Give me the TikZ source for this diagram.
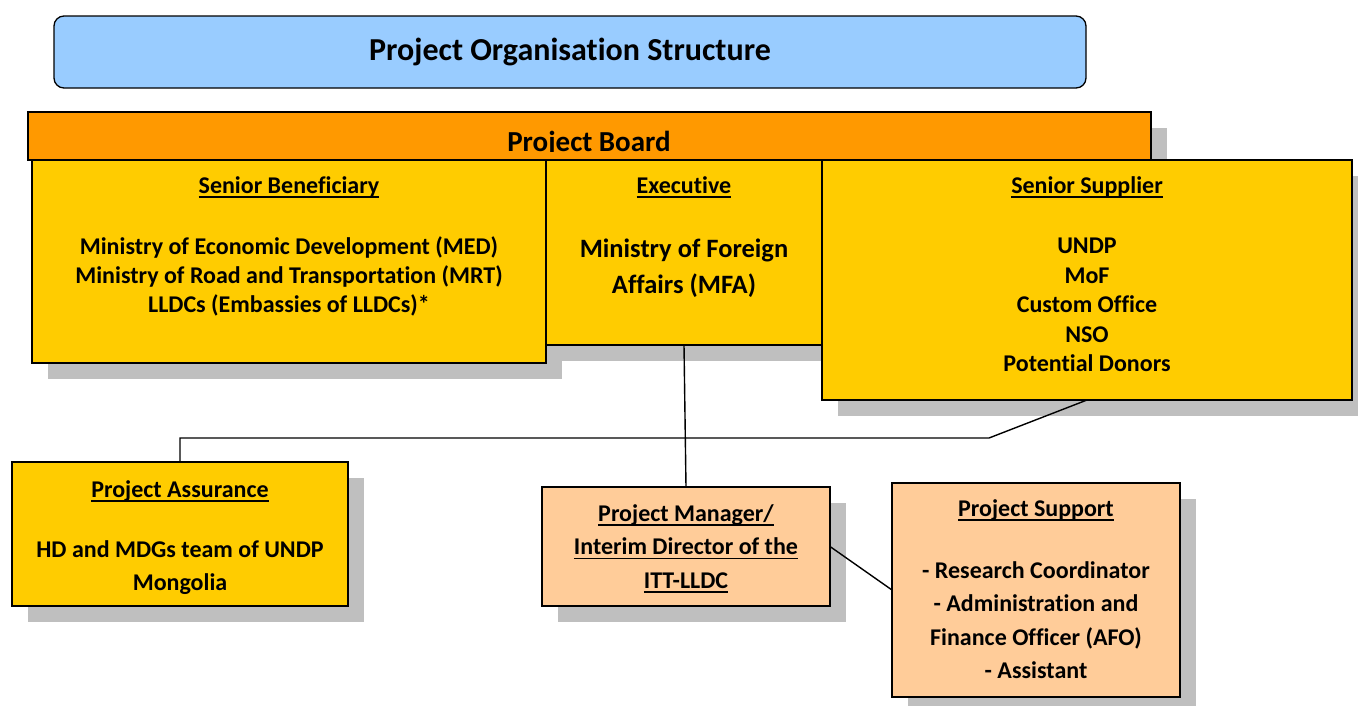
\documentclass[tikz,border=0pt]{standalone}
\usepackage{fontspec}
\setmainfont{Carlito}[Ligatures=NoCommon]
\usetikzlibrary{shadows}
\definecolor{titleblue}{RGB}{153,204,255}
\definecolor{boardorange}{RGB}{255,153,0}
\definecolor{boxyellow}{RGB}{255,204,0}
\definecolor{boxpeach}{RGB}{255,204,153}
\definecolor{shadowgray}{RGB}{191,191,191}
% thick underline drawn below the baseline
\newcommand{\ulbold}[1]{\leavevmode\setbox0=\hbox{#1}\rlap{\rule[-0.2em]{\wd0}{0.075em}}\box0}
\begin{document}
\begin{tikzpicture}[x=1pt,y=-1pt,
  panel/.style={draw=black, line width=1.8pt, inner sep=0pt, outer sep=0pt,
    general shadow={fill=shadowgray, shadow xshift=16pt, shadow yshift=-16pt}},
  txt/.style={font=\bfseries\fontsize{24}{29}\selectfont, align=center, inner sep=0pt},
  head/.style={txt, anchor=base},
  link/.style={draw=black, line width=1.4pt}]
\clip (0,0) rectangle (1358,705);
\fill[white] (0,0) rectangle (1358,705);

% title banner
\node[draw=black, line width=1.3pt, rounded corners=10pt, fill=titleblue,
  minimum width=1032pt, minimum height=72pt, inner sep=0pt] (title) at (570,52) {};
\node[font=\bfseries\fontsize{32}{36}\selectfont, inner sep=0pt, anchor=base] (titletext) at (570,60) {Project Organisation Structure};

% project board strip
\node[panel, fill=boardorange, minimum width=1123pt, minimum height=48pt] (board) at (589.5,136) {};
\begin{scope}
  \clip (28,112) rectangle (1151,151);
  \node[txt, anchor=base, font=\bfseries\fontsize{29}{32}\selectfont] (boardtext) at (589,151.5) {Project Board};
\end{scope}

% board members
\node[panel, fill=boxyellow, minimum width=514pt, minimum height=203pt] (sb) at (289,261.5) {};
\node[panel, fill=boxyellow, minimum width=276pt, minimum height=185pt] (exec) at (684,252.5) {};
\node[panel, fill=boxyellow, minimum width=530pt, minimum height=240pt] (ss) at (1087,280) {};

\node[head] (sbhead) at (289,193) {\ulbold{Senior Beneficiary}};
\node[txt] (sbbody) at (289,276) {Ministry of Economic Development (MED)\\Ministry of Road and Transportation (MRT)\\LLDCs (Embassies of LLDCs)*};

\node[head] (exechead) at (684,193) {\ulbold{Executive}};
\node[txt, font=\bfseries\fontsize{26.5}{36}\selectfont] (execbody) at (684,268.5) {Ministry of Foreign\\Affairs (MFA)};

\node[head] (sshead) at (1087,193) {\ulbold{Senior Supplier}};
\node[txt, font=\bfseries\fontsize{24}{29.5}\selectfont] (ssbody) at (1087,305) {UNDP\\MoF\\Custom Office\\NSO\\Potential Donors};

% lower level
\node[panel, fill=boxyellow, minimum width=336pt, minimum height=144pt] (pa) at (180,534) {};
\node[panel, fill=boxpeach, minimum width=288pt, minimum height=119pt] (pm) at (686,546.5) {};
\node[panel, fill=boxpeach, minimum width=288pt, minimum height=214pt] (ps) at (1036,590) {};

\node[head] (pahead) at (180,497) {\ulbold{Project Assurance}};
\node[txt, font=\bfseries\fontsize{24}{33}\selectfont] (pabody) at (180,567.5) {HD and MDGs team of UNDP\\Mongolia};

\node[txt, font=\bfseries\fontsize{24}{33.5}\selectfont] (pmtext) at (686,548.5) {\ulbold{Project Manager/}\\\ulbold{Interim Director of the}\\\ulbold{ITT-LLDC}};

\node[head] (pshead) at (1036,516) {\ulbold{Project Support}};
\node[txt, font=\bfseries\fontsize{24}{33.5}\selectfont] (psbody) at (1036,620) {- Research Coordinator\\- Administration and\\Finance Officer (AFO)\\- Assistant};

% connectors
\coordinate (busL) at (180,438);
\coordinate (busR) at (989,438);
\draw[link] (exec.south) -- (pm.north);
\draw[link] (pa.north) -- (busL) -- (busR) -- (ss.south);
\draw[link] (pm.east) -- (ps.west);
\end{tikzpicture}
\end{document}
